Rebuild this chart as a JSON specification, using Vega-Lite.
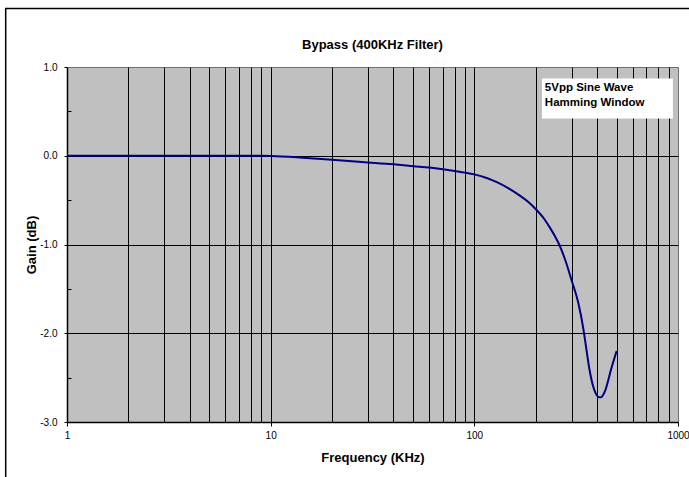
{
  "$schema": "https://vega.github.io/schema/vega-lite/v6.json",
  "width": 611,
  "height": 355,
  "autosize": "none",
  "padding": {"left": 67, "top": 67, "right": 11, "bottom": 55},
  "background": "white",
  "config": {
    "font": "Liberation Sans",
    "view": {"fill": "#C0C0C0", "stroke": "#707070", "strokeWidth": 1},
    "axis": {"labelColor": "black", "titleColor": "black", "tickColor": "black", "domainColor": "black"}
  },
  "title": {"text": "Bypass (400KHz Filter)", "fontSize": 13, "fontWeight": "bold", "frame": "group", "anchor": "middle", "offset": -44, "color": "black"},
  "data": {"values": [
    {"f": 1, "gain": 0}, {"f": 2, "gain": 0}, {"f": 3, "gain": 0}, {"f": 5, "gain": 0}, {"f": 7, "gain": 0},
    {"f": 10, "gain": -0.002}, {"f": 15, "gain": -0.025}, {"f": 20, "gain": -0.045}, {"f": 30, "gain": -0.075},
    {"f": 40, "gain": -0.097}, {"f": 50, "gain": -0.118}, {"f": 60, "gain": -0.133}, {"f": 70, "gain": -0.152},
    {"f": 80, "gain": -0.172}, {"f": 90, "gain": -0.19}, {"f": 100, "gain": -0.21}, {"f": 115, "gain": -0.25},
    {"f": 129, "gain": -0.298}, {"f": 148, "gain": -0.37}, {"f": 168, "gain": -0.452}, {"f": 186, "gain": -0.53},
    {"f": 200, "gain": -0.60}, {"f": 220, "gain": -0.71}, {"f": 235, "gain": -0.81}, {"f": 250, "gain": -0.915},
    {"f": 261, "gain": -1.00}, {"f": 280, "gain": -1.18}, {"f": 300, "gain": -1.40}, {"f": 324, "gain": -1.66},
    {"f": 343, "gain": -1.95}, {"f": 356, "gain": -2.20}, {"f": 367, "gain": -2.40}, {"f": 380, "gain": -2.57},
    {"f": 395, "gain": -2.68}, {"f": 410, "gain": -2.72}, {"f": 420, "gain": -2.72}, {"f": 430, "gain": -2.69},
    {"f": 440, "gain": -2.64}, {"f": 452, "gain": -2.55}, {"f": 465, "gain": -2.44}, {"f": 480, "gain": -2.33},
    {"f": 500, "gain": -2.20}
  ]},
  "layer": [
    {
      "mark": {"type": "line", "opacity": 0},
      "encoding": {
        "x": {"field": "f", "type": "quantitative", "scale": {"type": "log", "domain": [1, 1000], "nice": false},
          "axis": {"orient": "bottom", "values": [2,3,4,5,6,7,8,9,10,20,30,40,50,60,70,80,90,100,200,300,400,500,600,700,800,900],
            "grid": true, "gridColor": "black", "gridWidth": 1, "gridOpacity": 1, "labels": false, "ticks": false, "domain": false, "title": null}},
        "y": {"field": "gain", "type": "quantitative", "scale": {"domain": [-3, 1], "nice": false, "zero": false},
          "axis": {"orient": "left", "values": [-2, -1, 0], "grid": true, "gridColor": "black", "gridWidth": 1, "gridOpacity": 1,
            "labels": false, "ticks": false, "domain": false, "title": null}}
      }
    },
    {
      "mark": {"type": "line", "opacity": 0},
      "encoding": {
        "x": {"field": "f", "type": "quantitative", "scale": {"type": "log", "domain": [1, 1000], "nice": false}, "axis": null},
        "y": {"field": "gain", "type": "quantitative", "scale": {"domain": [-3, 1], "nice": false, "zero": false},
          "axis": {"orient": "left", "values": [-2.5, -1.5, -0.5, 0.5], "grid": false, "labels": false, "domain": false,
            "ticks": true, "tickSize": 4, "offset": -4, "tickColor": "black", "title": null}}
      }
    },
    {
      "data": {"values": [{}]},
      "mark": {"type": "rect", "fillOpacity": 0, "stroke": "black", "strokeWidth": 1.5, "clip": false},
      "encoding": {
        "x": {"datum": 0.5, "type": "quantitative", "scale": {"type": "log", "domain": [1, 1000], "nice": false}, "axis": null},
        "x2": {"datum": 3000},
        "y": {"datum": 1.66, "type": "quantitative", "scale": {"domain": [-3, 1], "nice": false, "zero": false}, "axis": null},
        "y2": {"datum": -4.5}
      }
    },
    {
      "data": {"values": [{}]},
      "mark": {"type": "rect", "fill": "white"},
      "encoding": {
        "x": {"datum": 215, "type": "quantitative", "scale": {"type": "log", "domain": [1, 1000], "nice": false}, "axis": null},
        "x2": {"datum": 944},
        "y": {"datum": 0.87, "type": "quantitative", "scale": {"domain": [-3, 1], "nice": false, "zero": false}, "axis": null},
        "y2": {"datum": 0.42}
      }
    },
    {
      "data": {"values": [{}]},
      "mark": {"type": "text", "text": ["5Vpp Sine Wave", "Hamming Window"], "align": "left", "baseline": "middle",
        "fontWeight": "bold", "fontSize": 11.5, "lineHeight": 15, "color": "black"},
      "encoding": {
        "x": {"datum": 222, "type": "quantitative", "scale": {"type": "log", "domain": [1, 1000], "nice": false}, "axis": null},
        "y": {"datum": 0.76, "type": "quantitative", "scale": {"domain": [-3, 1], "nice": false, "zero": false}, "axis": null}
      }
    },
    {
      "mark": {"type": "line", "color": "#000080", "strokeWidth": 2, "interpolate": "monotone"},
      "encoding": {
        "x": {"field": "f", "type": "quantitative", "scale": {"type": "log", "domain": [1, 1000], "nice": false},
          "axis": {"orient": "bottom", "values": [1, 10, 100, 1000], "format": "d", "grid": false, "tickSize": 4,
            "domainWidth": 1.5, "labelFontSize": 10, "labelPadding": 4, "labelFlush": false, "labelOverlap": false,
            "title": "Frequency (KHz)", "titleFontSize": 13, "titleFontWeight": "bold", "titlePadding": 11}},
        "y": {"field": "gain", "type": "quantitative", "scale": {"domain": [-3, 1], "nice": false, "zero": false},
          "axis": {"orient": "left", "values": [-3, -2, -1, 0, 1], "grid": false, "tickSize": 3, "domainWidth": 1.5,
            "labelExpr": "datum.value < 0 ? '-' + format(-datum.value, '.1f') : format(datum.value, '.1f')",
            "labelFontSize": 10, "labelPadding": 7, "title": "Gain (dB)", "titleFontSize": 13, "titleFontWeight": "bold", "titlePadding": 1}}
      }
    }
  ],
  "resolve": {"axis": {"x": "independent", "y": "independent"}}
}
